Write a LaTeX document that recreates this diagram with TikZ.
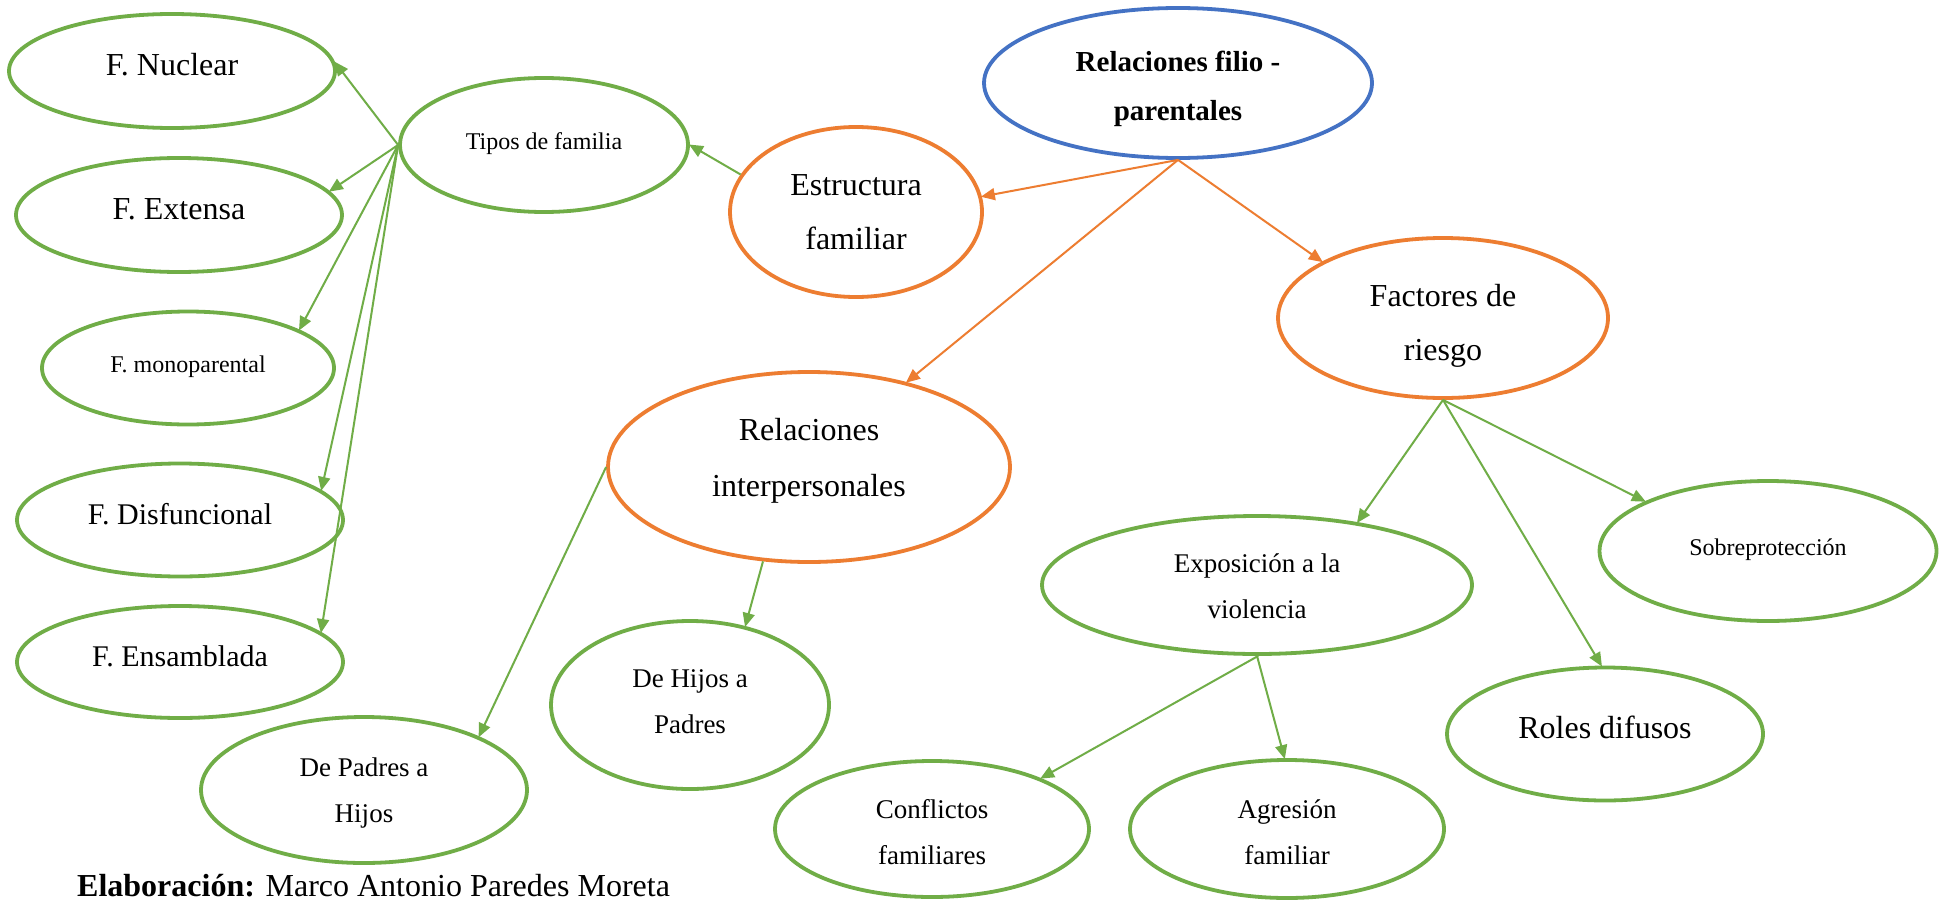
\documentclass[tikz,border=0pt]{standalone}
\usepackage{fontspec}
\setmainfont{Liberation Serif}
\usetikzlibrary{shapes.geometric,arrows.meta}
\definecolor{cgreen}{HTML}{70AD47}
\definecolor{corange}{HTML}{ED7D31}
\definecolor{cblue}{HTML}{4472C4}
% invisible struts that fix the vertical placement of a text in its ellipse
\newcommand{\sgl}{\rule[-20pt]{0pt}{49pt}}
\newcommand{\toph}[1]{\rule{0pt}{#1}}
\newcommand{\botd}[1]{\rule[-#1]{0pt}{0pt}}
\tikzset{
  el/.style={ellipse, draw, line width=3.8pt, inner sep=0pt, align=center},
  gel/.style={el, draw=cgreen},
  oel/.style={el, draw=corange},
  bel/.style={el, draw=cblue},
  big/.style={font=\fontsize{32}{54}\selectfont},
  mid/.style={font=\fontsize{27}{46}\selectfont},
  sml/.style={font=\fontsize{24}{40}\selectfont},
  ttl/.style={font=\fontsize{29}{49}\selectfont\bfseries},
  gconn/.style={draw=cgreen, line width=2pt, -{Triangle[length=14pt,width=12pt]}, shorten >=-1pt},
  oconn/.style={draw=corange, line width=2pt, -{Triangle[length=14pt,width=12pt]}, shorten >=-1pt},
}
\begin{document}
\begin{tikzpicture}[x=1pt,y=-1pt]
\path[use as bounding box, fill=white] (0,0) rectangle (1950,899);
% nodes
\node[gel, big, minimum width=326, minimum height=114] (nuclear) at (172,71) {\sgl F. Nuclear};
\node[gel, big, minimum width=326, minimum height=114] (extensa) at (179,215) {\sgl F. Extensa};
\node[gel, sml, minimum width=288, minimum height=134] (tipos) at (544,145) {\sgl Tipos de familia};
\node[gel, sml, minimum width=292, minimum height=113] (mono) at (188,368) {\sgl F. monoparental};
\node[gel, font=\fontsize{30}{50}\selectfont, minimum width=326, minimum height=113] (disf) at (180,520) {\sgl F. Disfuncional};
\node[gel, font=\fontsize{30}{50}\selectfont, minimum width=326, minimum height=112] (ensam) at (180,662) {\sgl F. Ensamblada};
\node[gel, mid, minimum width=326, minimum height=146] (padres) at (364,790) {\toph{25pt}De Padres a\\Hijos};
\node[gel, mid, minimum width=278, minimum height=168] (hijos) at (690,705) {De Hijos a\\Padres\botd{7pt}};
\node[oel, big, minimum width=252, minimum height=170] (estr) at (856,212) {Estructura\\familiar};
\node[oel, font=\fontsize{32}{56}\selectfont, minimum width=402, minimum height=190] (ri) at (809,467) {Relaciones\\interpersonales\botd{20pt}};
\node[bel, ttl, minimum width=388, minimum height=150] (filio) at (1178,83) {\toph{33pt}Relaciones filio -\\parentales};
\node[oel, big, minimum width=330, minimum height=160] (fact) at (1443,318) {\toph{38pt}Factores de\\riesgo};
\node[gel, mid, minimum width=430, minimum height=138] (expo) at (1257,585) {\toph{21pt}Exposición a la\\violencia};
\node[gel, sml, minimum width=337, minimum height=140] (sobre) at (1768,551) {\sgl Sobreprotección};
\node[gel, big, minimum width=316, minimum height=133] (roles) at (1605,734) {\sgl Roles difusos};
\node[gel, mid, minimum width=314, minimum height=138] (agres) at (1287,829) {\toph{25pt}Agresión\\familiar};
\node[gel, mid, minimum width=314, minimum height=136] (confl) at (932,829) {\toph{25pt}Conflictos\\familiares};
\node[anchor=base west, inner sep=0pt, font=\fontsize{32}{36}\selectfont] (elab) at (77,896) {\textbf{Elaboración:} Marco Antonio Paredes Moreta};
% connectors
\draw[gconn] (tipos.west) -- (nuclear.3);
\draw[gconn] (tipos.west) -- (extensa.9);
\draw[gconn] (tipos.west) -- (mono.19);
\draw[gconn] (tipos.west) -- (disf.12);
\draw[gconn] (tipos.west) -- (ensam.12);
\draw[gconn] (estr.162) -- (tipos.east);
\draw[oconn] (filio.south) -- (estr.7);
\draw[oconn] (filio.south) -- (ri.41);
\draw[oconn] (filio.south) -- (fact.155);
\draw[gconn] (fact.south) -- (expo.32);
\draw[gconn] (fact.south) -- (roles.93);
\draw[gconn] (fact.south) -- (sobre.158);
\draw[gconn] (expo.271) -- (confl.25);
\draw[gconn] (expo.270) -- (agres.92);
\draw[gconn] (ri.west) -- (padres.25);
\draw[gconn] (ri.244) -- (hijos.55);
\end{tikzpicture}
\end{document}
